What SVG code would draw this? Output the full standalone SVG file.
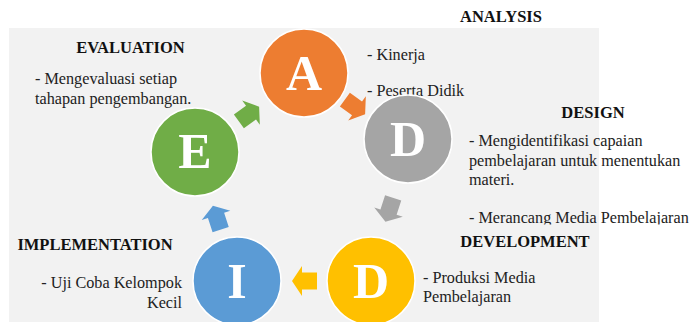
<svg xmlns="http://www.w3.org/2000/svg" width="691" height="322" viewBox="0 0 691 322">
<style>
.hd{font-family:"Liberation Serif","Times New Roman",serif;font-weight:bold;font-size:16.5px;fill:#111;text-anchor:middle}
.tx{font-family:"Liberation Serif","Times New Roman",serif;font-size:16.2px;fill:#222}
.r{text-anchor:end}
.lt{font-family:"Liberation Serif","Times New Roman",serif;font-weight:bold;font-size:50px;fill:#fff;text-anchor:middle}
.c{stroke:#fff;stroke-width:1.5}
</style>
<defs>
<path id="arr" d="M-12.5,-8.5 L2.5,-8.5 L2.5,-15 L12.5,0 L2.5,15 L2.5,8.5 L-12.5,8.5 Z"/>
<clipPath id="clipDesign"><rect x="0" y="0" width="691" height="224.5"/></clipPath>
</defs>
<rect x="0" y="0" width="691" height="322" fill="#fff"/>
<rect x="9" y="28" width="590" height="294" fill="#f2f2f2"/>

<g id="connectors">
<use href="#arr" fill="#ED7D31" transform="translate(355,107) rotate(36)"/>
<use href="#arr" fill="#A5A5A5" transform="translate(389.3,209.8) rotate(108)"/>
<use href="#arr" fill="#FFC000" transform="translate(304.5,281) rotate(180)"/>
<use href="#arr" fill="#5B9BD5" transform="translate(216.8,217.7) rotate(252)"/>
<use href="#arr" fill="#70AD47" transform="translate(249,114) rotate(324)"/>
</g>

<g id="node-analysis">
<circle class="c" cx="304" cy="73" r="44" fill="#ED7D31"/>
<text class="lt" x="304" y="90">A</text>
<text class="hd" x="501" y="22">ANALYSIS</text>
<text class="tx" x="367" y="60">- Kinerja</text>
<text class="tx" x="367" y="96">- Peserta Didik</text>
</g>

<g id="node-design">
<circle class="c" cx="408" cy="139" r="44" fill="#A5A5A5"/>
<text class="lt" x="408" y="156">D</text>
<text class="hd" x="593" y="118">DESIGN</text>
<g clip-path="url(#clipDesign)">
<text class="tx" x="469" y="146">- Mengidentifikasi capaian</text>
<text class="tx" x="469" y="165.5">pembelajaran untuk menentukan</text>
<text class="tx" x="469" y="185">materi.</text>
<text class="tx" x="469" y="223">- Merancang Media Pembelajaran</text>
</g>
</g>

<g id="node-development">
<circle class="c" cx="371" cy="281" r="44" fill="#FFC000"/>
<text class="lt" x="371" y="298">D</text>
<text class="hd" x="525" y="247">DEVELOPMENT</text>
<text class="tx" x="423" y="283">- Produksi Media</text>
<text class="tx" x="423" y="302">Pembelajaran</text>
</g>

<g id="node-implementation">
<circle class="c" cx="237" cy="281" r="44" fill="#5B9BD5"/>
<text class="lt" x="237" y="298">I</text>
<text class="hd" x="95" y="250">IMPLEMENTATION</text>
<text class="tx r" x="182" y="288">- Uji Coba Kelompok</text>
<text class="tx r" x="182" y="308">Kecil</text>
</g>

<g id="node-evaluation">
<circle class="c" cx="195" cy="152" r="44" fill="#70AD47"/>
<text class="lt" x="195" y="168">E</text>
<text class="hd" x="130.5" y="53">EVALUATION</text>
<text class="tx" x="35" y="84">- Mengevaluasi setiap</text>
<text class="tx" x="35" y="104">tahapan pengembangan.</text>
</g>
</svg>
